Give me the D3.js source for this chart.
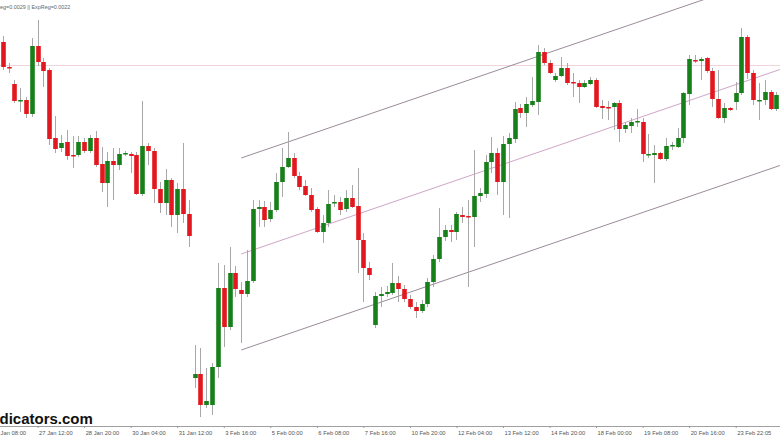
<!DOCTYPE html>
<html>
<head>
<meta charset="utf-8">
<script src="https://cdn.jsdelivr.net/npm/d3@7"></script>
<style>
  html, body { margin: 0; padding: 0; background: #ffffff; }
  svg { display: block; }
</style>
</head>
<body>
<div id="chart"></div>
<script>
// ---- Data (EURUSD-like H4 candles) ----
const openP = [1.0458,1.0433,1.0416,1.0399,1.0400,1.0386,1.0454,1.0438,1.0430,1.0362,
1.0352,1.0358,1.0345,1.0345,1.0358,1.0349,1.0362,1.0336,1.0317,1.0339,
1.0335,1.0346,1.0346,1.0345,1.0306,1.0354,1.0349,1.0311,1.0297,1.0320,
1.0285,1.0311,1.0286,1.0122,1.0126,1.0095,1.0095,1.0133,1.0212,1.0173,
1.0227,1.0210,1.0206,1.0219,1.0291,1.0293,1.0281,1.0290,1.0318,1.0333,
1.0342,1.0324,1.0314,1.0305,1.0291,1.0268,1.0277,1.0297,1.0298,1.0291,
1.0302,1.0294,1.0260,1.0232,1.0175,1.0204,1.0206,1.0207,1.0217,1.0211,
1.0201,1.0193,1.0189,1.0196,1.0218,1.0241,1.0263,1.0270,1.0268,1.0285,
1.0284,1.0283,1.0304,1.0306,1.0338,1.0347,1.0318,1.0356,1.0361,1.0392,
1.0387,1.0395,1.0398,1.0448,1.0437,1.0420,1.0424,1.0432,1.0418,1.0417,
1.0413,1.0416,1.0420,1.0394,1.0393,1.0393,1.0397,1.0371,1.0374,1.0378,
1.0378,1.0345,1.0345,1.0347,1.0341,1.0354,1.0353,1.0362,1.0406,1.0440,
1.0439,1.0442,1.0429,1.0401,1.0382,1.0392,1.0398,1.0407,1.0463,1.0427,
1.0399,1.0400,1.0408,1.0391];
const highP = [1.0464,1.0437,1.0420,1.0412,1.0403,1.0462,1.0480,1.0442,1.0432,1.0384,
1.0365,1.0370,1.0364,1.0364,1.0362,1.0365,1.0369,1.0353,1.0348,1.0352,
1.0352,1.0349,1.0348,1.0348,1.0399,1.0357,1.0352,1.0318,1.0331,1.0322,
1.0317,1.0357,1.0300,1.0155,1.0152,1.0132,1.0137,1.0237,1.0235,1.0253,
1.0234,1.0218,1.0250,1.0300,1.0300,1.0299,1.0298,1.0327,1.0352,1.0368,
1.0347,1.0328,1.0320,1.0312,1.0293,1.0285,1.0310,1.0305,1.0303,1.0310,
1.0315,1.0332,1.0267,1.0238,1.0208,1.0213,1.0214,1.0237,1.0224,1.0215,
1.0205,1.0198,1.0200,1.0222,1.0245,1.0292,1.0275,1.0275,1.0288,1.0293,
1.0300,1.0350,1.0312,1.0345,1.0363,1.0352,1.0364,1.0367,1.0398,1.0396,
1.0403,1.0423,1.0455,1.0452,1.0440,1.0427,1.0443,1.0437,1.0427,1.0420,
1.0420,1.0423,1.0422,1.0400,1.0399,1.0398,1.0400,1.0378,1.0382,1.0391,
1.0382,1.0366,1.0355,1.0348,1.0362,1.0358,1.0372,1.0408,1.0445,1.0445,
1.0443,1.0443,1.0432,1.0430,1.0397,1.0393,1.0418,1.0472,1.0465,1.0430,
1.0417,1.0420,1.0410,1.0408];
const lowP = [1.0430,1.0427,1.0397,1.0388,1.0382,1.0383,1.0434,1.0413,1.0355,1.0347,
1.0348,1.0340,1.0332,1.0343,1.0347,1.0347,1.0333,1.0308,1.0293,1.0300,
1.0330,1.0344,1.0327,1.0305,1.0304,1.0335,1.0297,1.0287,1.0285,1.0273,
1.0267,1.0277,1.0253,1.0112,1.0083,1.0092,1.0085,1.0122,1.0153,1.0170,
1.0203,1.0157,1.0203,1.0217,1.0273,1.0273,1.0278,1.0288,1.0303,1.0332,
1.0322,1.0310,1.0304,1.0288,1.0267,1.0257,1.0273,1.0293,1.0285,1.0288,
1.0292,1.0227,1.0198,1.0220,1.0172,1.0193,1.0203,1.0205,1.0198,1.0198,
1.0191,1.0182,1.0187,1.0193,1.0213,1.0238,1.0259,1.0258,1.0260,1.0277,
1.0213,1.0253,1.0298,1.0302,1.0327,1.0305,1.0285,1.0282,1.0357,1.0382,
1.0373,1.0393,1.0385,1.0435,1.0426,1.0418,1.0423,1.0415,1.0403,1.0397,
1.0412,1.0415,1.0392,1.0381,1.0380,1.0370,1.0358,1.0367,1.0367,1.0373,
1.0338,1.0342,1.0317,1.0340,1.0339,1.0350,1.0352,1.0357,1.0395,1.0437,
1.0420,1.0427,1.0393,1.0381,1.0377,1.0389,1.0390,1.0405,1.0421,1.0395,
1.0380,1.0395,1.0390,1.0389];
const closeP = [1.0433,1.0432,1.0399,1.0400,1.0386,1.0454,1.0438,1.0429,1.0361,1.0351,
1.0357,1.0344,1.0344,1.0358,1.0349,1.0362,1.0335,1.0317,1.0339,1.0335,
1.0346,1.0347,1.0344,1.0306,1.0354,1.0349,1.0311,1.0297,1.0320,1.0285,
1.0311,1.0286,1.0264,1.0126,1.0095,1.0099,1.0133,1.0212,1.0173,1.0227,
1.0211,1.0206,1.0219,1.0291,1.0293,1.0280,1.0290,1.0318,1.0333,1.0342,
1.0324,1.0313,1.0305,1.0290,1.0268,1.0277,1.0296,1.0298,1.0290,1.0302,
1.0293,1.0260,1.0232,1.0225,1.0204,1.0206,1.0208,1.0217,1.0211,1.0201,
1.0193,1.0189,1.0196,1.0218,1.0241,1.0263,1.0270,1.0268,1.0286,1.0283,
1.0283,1.0304,1.0307,1.0338,1.0347,1.0318,1.0356,1.0362,1.0391,1.0387,
1.0396,1.0399,1.0448,1.0437,1.0427,1.0424,1.0432,1.0417,1.0417,1.0413,
1.0417,1.0420,1.0393,1.0392,1.0392,1.0397,1.0371,1.0375,1.0378,1.0379,
1.0346,1.0346,1.0347,1.0341,1.0354,1.0355,1.0362,1.0407,1.0441,1.0439,
1.0441,1.0429,1.0401,1.0382,1.0392,1.0390,1.0407,1.0463,1.0427,1.0400,
1.0400,1.0408,1.0391,1.0405];

// Regression channel (candle index -> price) and horizontal level
const channelIdx   = [41, 133.6];
const channelMid   = [1.0246, 1.04305];
const channelUpper = [1.0342, 1.05265];
const channelLower = [1.0150, 1.03345];
const levelPrice   = 1.04345;

// Time axis labels (candle index of each label)
const tickIdx = [-2, 6, 14, 22, 30, 38, 46, 54, 62, 70, 78, 86, 94, 102, 110, 118, 126];
const tickLabels = ["26 Jan 08:00","27 Jan 12:00","28 Jan 20:00","30 Jan 04:00","31 Jan 12:00",
  "3 Feb 16:00","5 Feb 00:00","6 Feb 08:00","7 Feb 16:00","10 Feb 20:00","12 Feb 04:00",
  "13 Feb 12:00","14 Feb 20:00","18 Feb 00:00","19 Feb 08:00","20 Feb 16:00","23 Feb 22:05"];

const infoText = "LinReg=0.0029 || ExpReg=0.0022";
const watermark = "dicators.com";

// ---- Drawing ----
const W = 780, H = 438, plotBottom = 426;
const svg = d3.select("#chart").append("svg").attr("width", W).attr("height", H);

const x = d3.scaleLinear().domain([0, 133]).range([2.7, 776.4]);
const y = d3.scaleLinear().domain([1.0062, 1.0500]).range([438, 0]);

svg.append("defs").append("clipPath").attr("id", "plot")
  .append("rect").attr("x", 0).attr("y", 0).attr("width", W).attr("height", plotBottom);

const plot = svg.append("g").attr("clip-path", "url(#plot)");

// horizontal level line
plot.append("line")
  .attr("x1", 0).attr("x2", W)
  .attr("y1", y(levelPrice)).attr("y2", y(levelPrice))
  .attr("stroke", "#f0d4da").attr("stroke-width", 1);

// channel lines
const chLine = d3.line().x(d => x(d[0])).y(d => y(d[1]));
const chans = [
  {vals: channelUpper, color: "#9a8c9a"},
  {vals: channelMid, color: "#cfa6c6"},
  {vals: channelLower, color: "#9a8c9a"}
];
chans.forEach(c => {
  plot.append("path")
    .attr("d", chLine(channelIdx.map((t, i) => [t, c.vals[i]])))
    .attr("fill", "none").attr("stroke", c.color).attr("stroke-width", 1);
});

// candles
const candles = openP.map((o, i) => ({i, o, h: highP[i], l: lowP[i], c: closeP[i]}));
const bodyW = 4.6;
const g = plot.append("g");
g.selectAll("line.wick").data(candles).join("line")
  .attr("class", "wick")
  .attr("x1", d => Math.round(x(d.i)) + 0.5).attr("x2", d => Math.round(x(d.i)) + 0.5)
  .attr("y1", d => y(d.h)).attr("y2", d => y(d.l))
  .attr("stroke", "#a8a8a8").attr("stroke-width", 1);
g.selectAll("rect.body").data(candles).join("rect")
  .attr("class", "body")
  .attr("x", d => Math.round(x(d.i)) + 0.5 - bodyW / 2)
  .attr("width", bodyW)
  .attr("y", d => Math.min(y(d.o), y(d.c)))
  .attr("height", d => Math.max(1.5, Math.abs(y(d.o) - y(d.c))))
  .attr("fill", d => d.c >= d.o ? "#17801b" : "#e3171f");

// info text
svg.append("text")
  .attr("x", -11).attr("y", 9)
  .attr("font-family", "Liberation Sans, Arial, sans-serif")
  .attr("font-size", 5.4).attr("fill", "#666")
  .text(infoText);

// axis line and labels
svg.append("line").attr("x1", 0).attr("x2", W)
  .attr("y1", plotBottom + 0.5).attr("y2", plotBottom + 0.5)
  .attr("stroke", "#a0a0a0").attr("stroke-width", 1);

const axis = d3.axisBottom(x).tickValues(tickIdx)
  .tickFormat((d, i) => tickLabels[i]).tickSize(2).tickSizeOuter(0);
const ax = svg.append("g").attr("transform", `translate(0,${plotBottom})`).call(axis);
ax.select(".domain").remove();
ax.selectAll(".tick line").attr("stroke", "#999");
ax.selectAll(".tick text")
  .attr("text-anchor", "start").attr("x", 1).attr("y", 9).attr("dy", 0)
  .attr("font-family", "Liberation Sans, Arial, sans-serif")
  .attr("font-size", 5.8).attr("fill", "#555");

// watermark
svg.append("text")
  .attr("x", -0.5).attr("y", 424)
  .attr("font-family", "Liberation Sans, Arial, sans-serif")
  .attr("font-weight", "bold").attr("font-size", 15)
  .attr("fill", "#111")
  .text(watermark);
</script>
</body>
</html>
